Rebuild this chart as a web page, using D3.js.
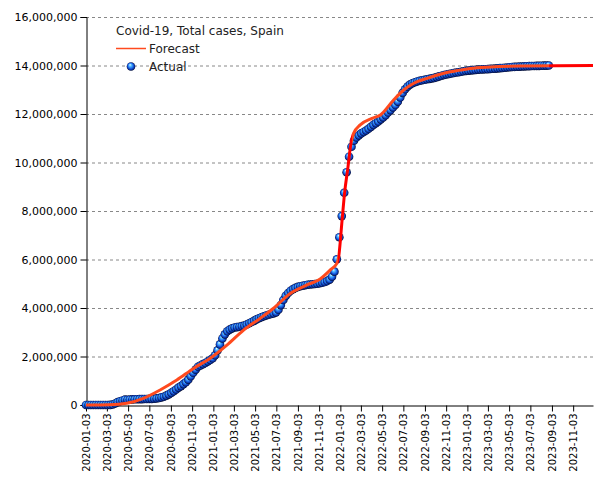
<!DOCTYPE html>
<html>
<head>
<meta charset="utf-8">
<script src="https://cdn.jsdelivr.net/npm/d3@7"></script>
<style>
  html, body { margin: 0; padding: 0; background: #fff; }
  svg { display: block; }
  text { font-family: "DejaVu Sans", sans-serif; }
</style>
</head>
<body>
<svg id="chart" width="605" height="480"></svg>
<script>
// ---------------- DATA ----------------
const chartTitle = "Covid-19, Total cases, Spain";
const seriesNames = ["Forecast", "Actual"];

// Actual: weekly observations starting on this date
const actualStart = "2020-01-03";
const actualValues = [
  0, 0, 0, 0, 1, 1, 2, 2, 32, 365,
  5232, 21571, 64059, 117710, 157022, 188068, 219764, 216000, 222857, 230183,
  234824, 238564, 240978, 243209, 245575, 247905, 250545, 253908, 258855, 272421,
  288522, 314362, 342813, 386054, 439286, 498989, 566326, 640040, 716481, 778607,
  861112, 936560, 1046132, 1185678, 1328832, 1458591, 1574063, 1628208, 1684647, 1730575,
  1797236, 1854951, 1928265, 2050360, 2252164, 2499560, 2743119, 2913425, 3041454, 3107172,
  3160000, 3195000, 3212000, 3229000, 3255000, 3275000, 3320000, 3370000, 3420000, 3470000,
  3530000, 3580000, 3620000, 3660000, 3690000, 3720000, 3750000, 3780000, 3820000, 3930000,
  4120000, 4330000, 4500000, 4620000, 4710000, 4780000, 4830000, 4870000, 4900000, 4920000,
  4940000, 4960000, 4970000, 4980000, 4990000, 5000000, 5020000, 5040000, 5070000, 5110000,
  5170000, 5290000, 5500000, 6010000, 6920000, 7790000, 8750000, 9600000, 10240000, 10650000,
  10900000, 11030000, 11120000, 11200000, 11260000, 11320000, 11390000, 11470000, 11550000, 11620000,
  11690000, 11780000, 11860000, 11950000, 12060000, 12160000, 12270000, 12370000, 12510000, 12680000,
  12870000, 13020000, 13130000, 13210000, 13270000, 13310000, 13340000, 13370000, 13390000, 13410000,
  13430000, 13450000, 13470000, 13490000, 13520000, 13550000, 13580000, 13610000, 13630000, 13650000,
  13670000, 13690000, 13710000, 13720000, 13740000, 13760000, 13780000, 13790000, 13800000, 13810000,
  13820000, 13830000, 13835000, 13840000, 13845000, 13850000, 13860000, 13865000, 13870000, 13880000,
  13890000, 13900000, 13910000, 13920000, 13930000, 13940000, 13945000, 13950000, 13955000, 13960000,
  13965000, 13970000, 13975000, 13978000, 13980000, 13983000, 13986000, 13990000, 13993000, 13996000,
  13999000
];

// Forecast curve
const forecastDates = [
  "2020-01-03","2020-03-12","2020-04-29","2020-06-16","2020-08-03","2020-09-20",
  "2020-11-07","2020-12-25","2021-02-11","2021-03-31","2021-05-18","2021-06-25",
  "2021-08-12","2021-09-29","2021-11-06","2021-12-05","2021-12-24","2021-12-29",
  "2022-01-08","2022-01-15","2022-01-25","2022-02-01","2022-02-10","2022-03-01",
  "2022-04-04","2022-04-28","2022-06-05","2022-07-04","2022-08-02","2022-09-09",
  "2022-10-27","2022-12-14","2023-01-12","2023-03-10","2023-06-05","2023-12-30"
];
const forecastValues = [
  0, 10000, 70000, 276000, 620000, 1030000,
  1510000, 1930000, 2470000, 3090000, 3580000, 3990000,
  4600000, 4950000, 5200000, 5570000, 5840000, 6100000,
  7630000, 8730000, 9830000, 10650000, 11200000, 11550000,
  11820000, 11960000, 12580000, 12990000, 13270000, 13470000,
  13680000, 13810000, 13880000, 13940000, 13980000, 14000000
];

const xTickLabels = [
  "2020-01-03","2020-03-03","2020-05-03","2020-07-03","2020-09-03","2020-11-03",
  "2021-01-03","2021-03-03","2021-05-03","2021-07-03","2021-09-03","2021-11-03",
  "2022-01-03","2022-03-03","2022-05-03","2022-07-03","2022-09-03","2022-11-03",
  "2023-01-03","2023-03-03","2023-05-03","2023-07-03","2023-09-03","2023-11-03"
];
const yTickValues = [0, 2000000, 4000000, 6000000, 8000000, 10000000, 12000000, 14000000, 16000000];
const xDomain = ["2020-01-03", "2023-12-30"];

// ---------------- CHART ----------------
const parse = d3.utcParse("%Y-%m-%d");
const W = 605, H = 480;
const m = { left: 86, right: 12, top: 17, bottom: 75 };

const svg = d3.select("#chart");
svg.append("rect").attr("width", W).attr("height", H).attr("fill", "#fff");

const x = d3.scaleUtc().domain(xDomain.map(parse)).range([m.left, W - m.right]);
const y = d3.scaleLinear().domain([0, 16000000]).range([H - m.bottom, m.top]);

const start = parse(actualStart);
const actual = actualValues.map((v, i) => ({ date: d3.utcDay.offset(start, 7 * i), value: v }));
const forecast = forecastDates.map((d, i) => ({ date: parse(d), value: forecastValues[i] }));

const defs = svg.append("defs");
const ball = defs.append("radialGradient").attr("id", "ball")
  .attr("cx", "50%").attr("cy", "50%").attr("r", "50%").attr("fx", "38%").attr("fy", "28%");
[["0%", "#f0faff"], ["28%", "#5ac0ff"], ["58%", "#2070f0"], ["84%", "#0a30a0"], ["100%", "#000a30"]]
  .forEach(([o, c]) => ball.append("stop").attr("offset", o).attr("stop-color", c));

// line colour gradient: red where the line runs alone, orange-red over the markers
const lastActual = actual[actual.length - 1].date;
const lg = defs.append("linearGradient").attr("id", "fcol")
  .attr("gradientUnits", "userSpaceOnUse")
  .attr("x1", x.range()[0]).attr("x2", x.range()[1]).attr("y1", 0).attr("y2", 0);
const span = x.range()[1] - x.range()[0];
const off = d => (x(d) - x.range()[0]) / span;
const steepA = parse("2021-12-26"), steepB = parse("2022-02-06");
[[0, "#ff4a1e"], [off(steepA), "#ff4a1e"], [off(steepA), "#ff0000"], [off(steepB), "#ff0000"],
 [off(steepB), "#ff4a1e"], [off(lastActual), "#ff4a1e"], [off(lastActual), "#ff0000"], [1, "#ff0000"]]
  .forEach(([o, c]) => lg.append("stop").attr("offset", o).attr("stop-color", c));

// gridlines
svg.append("g").selectAll("line").data(yTickValues.filter(v => v > 0)).join("line")
  .attr("x1", m.left).attr("x2", W - m.right)
  .attr("y1", d => y(d) + 0.5).attr("y2", d => y(d) + 0.5)
  .attr("stroke", "#888").attr("stroke-width", 1).attr("stroke-dasharray", "3,3");

// axes
const fmt = d3.format(",");
const yAxis = svg.append("g").attr("transform", `translate(${m.left + 0.5},0)`)
  .call(d3.axisLeft(y).tickValues(yTickValues).tickFormat(fmt).tickSize(6).tickPadding(3));
yAxis.selectAll("text").attr("font-size", 11).attr("fill", "#000").attr("font-family", "DejaVu Sans");
yAxis.select(".domain").attr("stroke", "#000");
yAxis.selectAll(".tick line").attr("stroke", "#000");

const xAxis = svg.append("g").attr("transform", `translate(0,${H - m.bottom + 0.5})`)
  .call(d3.axisBottom(x).tickValues(xTickLabels.map(parse)).tickFormat(d3.utcFormat("%Y-%m-%d")).tickSize(6).tickSizeOuter(0));
xAxis.select(".domain").attr("stroke", "#000");
xAxis.selectAll(".tick line").attr("stroke", "#000");
xAxis.selectAll("text")
  .attr("font-size", 10).attr("fill", "#000").attr("font-family", "DejaVu Sans")
  .attr("text-anchor", "end").attr("dy", "0.35em")
  .attr("transform", "translate(0,8) rotate(-90)").attr("x", 0).attr("y", 0);

// markers
svg.append("g").selectAll("circle").data(actual).join("circle")
  .attr("cx", d => x(d.date)).attr("cy", d => y(d.value)).attr("r", 4.3)
  .attr("fill", "url(#ball)");

// forecast line
const line = d3.line().x(d => x(d.date)).y(d => y(d.value)).curve(d3.curveMonotoneX);
svg.append("path").datum(forecast).attr("d", line)
  .attr("fill", "none").attr("stroke", "url(#fcol)").attr("stroke-width", 3);

// legend
const lgd = svg.append("g");
lgd.append("text").attr("x", 116).attr("y", 35).attr("font-size", 12).attr("fill", "#222").text(chartTitle);
lgd.append("line").attr("x1", 116).attr("x2", 146).attr("y1", 48.5).attr("y2", 48.5)
  .attr("stroke", "#ff4a1e").attr("stroke-width", 1.5);
lgd.append("text").attr("x", 149).attr("y", 53).attr("font-size", 12).attr("fill", "#222").text(seriesNames[0]);
lgd.append("circle").attr("cx", 131).attr("cy", 66.5).attr("r", 4.3).attr("fill", "url(#ball)");
lgd.append("text").attr("x", 149).attr("y", 71).attr("font-size", 12).attr("fill", "#222").text(seriesNames[1]);
</script>
</body>
</html>
